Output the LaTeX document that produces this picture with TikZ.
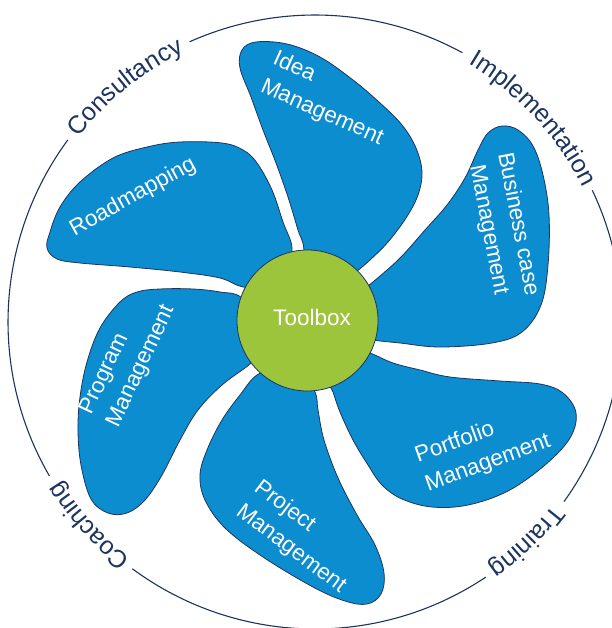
\documentclass[tikz,border=0pt]{standalone}
\usepackage{fontspec}
\setmainfont{Liberation Sans}
\usetikzlibrary{decorations.text}
\definecolor{bladeblue}{RGB}{12,141,208}
\definecolor{navy}{RGB}{28,52,94}
\definecolor{hubgreen}{RGB}{156,197,60}
\newcommand\outerfont{\fontsize{25}{30}\selectfont}
\begin{document}
\begin{tikzpicture}[x=1pt,y=1pt,
  blade/.style={fill=bladeblue, draw=navy, line width=0.8pt},
  bladetext/.style={text=white, font=\fontsize{22.5}{30}\selectfont, inner sep=0pt},
  ring/.style={draw=navy, line width=1.1pt},
  ringtext/.style={decorate, decoration={text along path, text align=center, text color=navy, text={|\outerfont|#1}}}]
\useasboundingbox (0,0) rectangle (611,-628);
\coordinate (O) at (315,-322);
% outer ring arcs
\draw[ring] (O) ++(61.3:307) arc[start angle=61.3, end angle=114.1, radius=307];
\draw[ring] (O) ++(143.6:307) arc[start angle=143.6, end angle=210.1, radius=307];
\draw[ring] (O) ++(233.5:307) arc[start angle=233.5, end angle=303.8, radius=307];
\draw[ring] (O) ++(-35.8:307) arc[start angle=-35.8, end angle=25.4, radius=307];
% ring labels
\path[ringtext=Consultancy] (O) ++(165:300) arc[start angle=165, end angle=93, radius=300];
\path[ringtext=Implementation] (O) ++(80:300) arc[start angle=80, end angle=6, radius=300];
\path[ringtext=Training] (O) ++(-10:300) arc[start angle=-10, end angle=-82, radius=300];
\path[ringtext=Coaching] (O) ++(-102:300) arc[start angle=-102, end angle=-174, radius=300];
% blades
\path[blade] plot[smooth cycle, tension=0.6] coordinates {(305,-300) (304,-250) (298,-230) (288,-197) (276,-163) (263,-130) (251,-97) (240,-68) (242,-50) (256,-42) (287,-44) (320,-57) (353,-80) (380,-103) (402,-125) (416,-148) (422,-172) (418,-195) (406,-218) (388,-242) (370,-260) (355,-273) (330,-295)};
\path[blade] plot[smooth cycle, tension=0.6] coordinates {(345,-305) (373,-282) (400,-258) (425,-230) (447,-205) (465,-178) (478,-150) (488,-133) (502,-126) (518,-130) (533,-146) (543,-175) (549,-215) (548,-265) (541,-305) (522,-332) (492,-343) (440,-347) (400,-343) (373,-340) (350,-335)};
\path[blade] plot[smooth cycle, tension=0.6] coordinates {(345,-345) (370,-353) (393,-363) (420,-370) (450,-377) (500,-381) (540,-384) (563,-393) (576,-413) (570,-438) (545,-465) (508,-491) (468,-505) (432,-507) (402,-499) (382,-485) (368,-465) (353,-440) (340,-412) (333,-392) (327,-375)};
\path[blade] plot[smooth cycle, tension=0.6] coordinates {(300,-370) (315,-392) (318,-410) (324,-440) (338,-478) (357,-515) (375,-545) (384,-573) (381,-594) (367,-604) (345,-601) (313,-587) (263,-557) (225,-528) (205,-500) (200,-475) (207,-450) (222,-420) (240,-395) (257,-375) (280,-368)};
\path[blade] plot[smooth cycle, tension=0.6] coordinates {(265,-330) (242,-298) (220,-292) (193,-289) (160,-289) (137,-292) (120,-302) (100,-328) (87,-362) (80,-397) (78,-430) (81,-465) (91,-499) (108,-513) (127,-513) (145,-500) (162,-475) (180,-440) (198,-410) (222,-385) (250,-364) (262,-350)};
\path[blade] plot[smooth cycle, tension=0.6] coordinates {(265,-285) (243,-287) (220,-278) (180,-272) (130,-267) (80,-263) (57,-259) (47,-248) (50,-232) (60,-207) (80,-182) (113,-158) (147,-147) (180,-142) (222,-143) (243,-150) (257,-163) (272,-190) (283,-222) (292,-248) (285,-270)};
% hub
\node[circle, fill=hubgreen, draw=navy, line width=0.8pt, minimum size=141pt, inner sep=0pt] (hub) at (307.5,-320.5) {};
\node[bladetext] (toolbox) at (312,-317) {Toolbox};
% blade labels
\node[bladetext, align=left, rotate=-24] (idea) at (328,-99) {Idea\\Management};
\node[bladetext, align=center, rotate=-79] (business) at (503,-227) {Business case\\Management};
\node[bladetext, align=left, rotate=20] (portfolio) at (483,-449) {Portfolio\\Management};
\node[bladetext, align=left, rotate=-37] (project) at (300,-537) {Project\\Management};
\node[bladetext, align=left, rotate=65] (program) at (128,-360) {Program\\Management};
\node[bladetext, rotate=29] (roadmap) at (133,-197) {Roadmapping};
\end{tikzpicture}
\end{document}
